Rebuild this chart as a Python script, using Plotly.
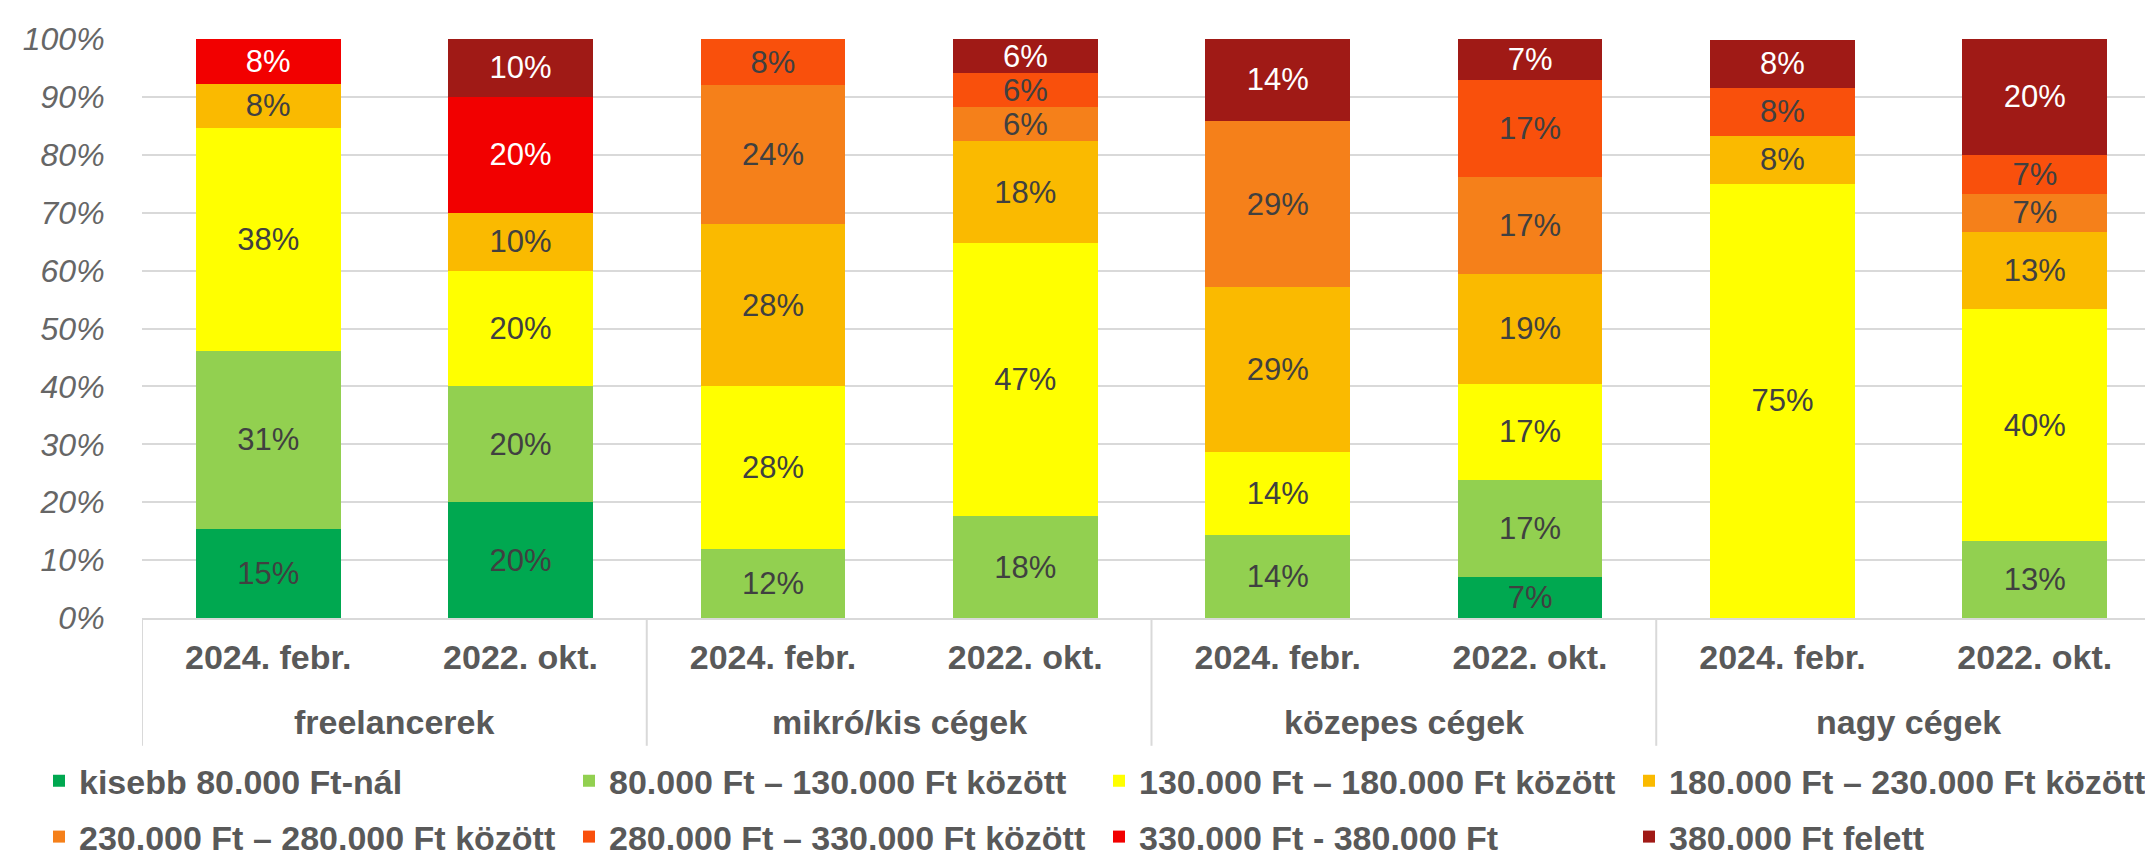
import plotly.graph_objects as go

# ---- data ----
groups = ["freelancerek", "freelancerek", "mikró/kis cégek", "mikró/kis cégek",
          "közepes cégek", "közepes cégek", "nagy cégek", "nagy cégek"]
periods = ["2024. febr.", "2022. okt."] * 4
group_names = ["freelancerek", "mikró/kis cégek", "közepes cégek", "nagy cégek"]

series_names = [
    "kisebb 80.000 Ft-nál",
    "80.000 Ft – 130.000 Ft között",
    "130.000 Ft – 180.000 Ft között",
    "180.000 Ft – 230.000 Ft között",
    "230.000 Ft – 280.000 Ft között",
    "280.000 Ft – 330.000 Ft között",
    "330.000 Ft - 380.000 Ft",
    "380.000 Ft felett",
]
kisebb_80 = [15.4, 20, None, None, None, 7.1, None, None]
r80_130 = [30.8, 20, 12, 17.6, 14.3, 16.7, None, 13.3]
r130_180 = [38.4, 20, 28, 47.1, 14.3, 16.7, 75, 40]
r180_230 = [7.7, 10, 28, 17.6, 28.6, 19.0, 8.3, 13.3]
r230_280 = [None, None, 24, 5.9, 28.6, 16.7, None, 6.7]
r280_330 = [None, None, 8, 5.9, None, 16.7, 8.3, 6.7]
r330_380 = [7.7, 20, None, None, None, None, None, None]
r380_felett = [None, 10, None, 5.9, 14.3, 7.1, 8.3, 20]
series_values = [kisebb_80, r80_130, r130_180, r180_230, r230_280, r280_330, r330_380, r380_felett]

colors = ["#00A850", "#92D050", "#FFFF00", "#FABA00", "#F5801A", "#F9500C", "#F20000", "#A01A16"]
text_colors = ["#404040"] * 6 + ["#FFFFFF", "#FFFFFF"]

# unique category keys built from the group + period lists
cats = [f"{g} | {p}" for g, p in zip(groups, periods)]

fig = go.Figure()
for i, (name, vals) in enumerate(zip(series_names, series_values)):
    fig.add_trace(go.Bar(
        x=cats, y=vals, name=name,
        marker=dict(color=colors[i], line=dict(width=0)),
        texttemplate="%{y:.0f}%", textposition="inside", insidetextanchor="middle",
        textangle=0, constraintext="none",
        textfont=dict(family="Liberation Sans", size=31, color=text_colors[i]),
        legend="legend" if i < 4 else "legend2",
        hoverinfo="skip",
    ))

label_font = dict(family="Liberation Sans", size=34, color="#595959", weight="bold")
legend_font = dict(family="Liberation Sans", size=34, color="#595959", weight="bold")
legend_common = dict(
    orientation="h", xref="paper", yref="paper", xanchor="left", yanchor="middle",
    font=legend_font, entrywidth=485, entrywidthmode="pixels", traceorder="normal",
    bgcolor="rgba(0,0,0,0)", itemclick=False, itemdoubleclick=False,
)

W, H = 2153, 858
ml, mr, mt, mb = 134, 0, 31, 238
pw, ph = W - ml - mr, H - mt - mb

def px_x(p):
    return (p - ml) / pw

def px_y(p):
    return (H - mb - p) / ph

# group labels and dividers (category axis positions)
n_per_group = 2
annotations = []
shapes = []
for gi, gname in enumerate(group_names):
    center = gi * n_per_group + (n_per_group - 1) / 2
    annotations.append(dict(
        x=center, xref="x", y=px_y(726), yref="paper", text=gname, showarrow=False,
        font=label_font, xanchor="center", yanchor="middle",
    ))
for b in range(len(group_names) + 1):
    xb = b * n_per_group - 0.5
    shapes.append(dict(
        type="line", xref="x", yref="paper", x0=xb, x1=xb, y0=0, y1=px_y(750),
        line=dict(color="#D9D9D9", width=2), layer="below",
    ))

fig.update_layout(
    width=W, height=H,
    margin=dict(l=ml, r=mr, t=mt, b=mb, pad=0),
    barmode="stack", bargap=0.426,
    plot_bgcolor="white", paper_bgcolor="white",
    showlegend=True,
    legend=dict(x=px_x(31), y=px_y(786), **legend_common),
    legend2=dict(x=px_x(31), y=px_y(843), **legend_common),
    annotations=annotations,
    shapes=shapes,
    xaxis=dict(
        type="category", categoryorder="array", categoryarray=cats,
        tickvals=cats, ticktext=periods, range=[-0.5, len(cats) - 0.5],
        showline=True, linecolor="#D9D9D9", linewidth=2,
        tickfont=label_font, ticks="outside", ticklen=8, tickcolor="rgba(0,0,0,0)",
        showgrid=False,
    ),
    yaxis=dict(
        range=[0, 100], dtick=10, ticksuffix="%", showgrid=True,
        gridcolor="#D9D9D9", gridwidth=2, zeroline=False,
        ticks="outside", ticklen=30, tickcolor="rgba(0,0,0,0)",
        tickfont=dict(family="Liberation Sans", size=32, color="#666666", style="italic"),
    ),
)

fig.write_html("out.html")
